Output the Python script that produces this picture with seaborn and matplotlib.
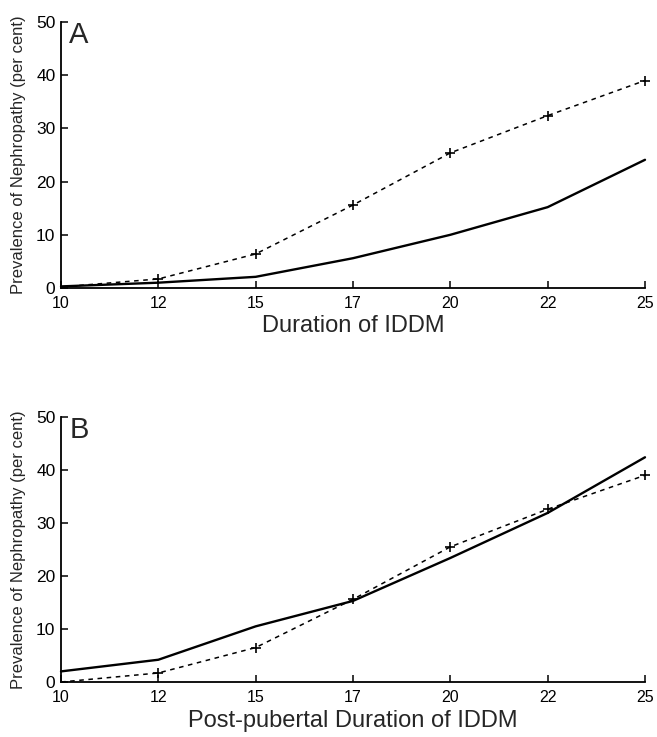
import numpy as np
import pandas as pd
import matplotlib
matplotlib.use("Agg")
import matplotlib.pyplot as plt
import seaborn as sns

# duration categories (evenly spaced on the axis)
durations = ["10", "12", "15", "17", "20", "22", "25"]

# dashed series with "+" markers
dashed_a = [0.2, 1.7, 6.4, 15.6, 25.4, 32.4, 39.0]
dashed_b = [0.0, 1.7, 6.5, 15.6, 25.5, 32.6, 39.0]

# solid series
solid_a = [0.3, 1.0, 2.1, 5.6, 10.0, 15.2, 24.1]
solid_b = [2.0, 4.2, 10.5, 15.3, 23.4, 31.9, 42.4]

y_ticks = [0, 10, 20, 30, 40, 50]

sns.set_theme(style="ticks")
plt.rcParams["font.family"] = ["Liberation Sans", "DejaVu Sans"]

fig = plt.figure(figsize=(6.57, 7.37), dpi=100)
W, H = 657, 737
ax_a = fig.add_axes([61 / W, 1 - 288 / H, (645 - 61) / W, (288 - 22) / H])
ax_b = fig.add_axes([61 / W, 1 - 682 / H, (645 - 61) / W, (682 - 417) / H])


def draw_panel(ax, solid, dashed, letter, xlabel):
    pos = np.arange(len(durations))
    df = pd.DataFrame({"x": pos, "solid": solid, "dashed": dashed})
    sns.lineplot(data=df, x="x", y="solid", ax=ax, color="black", lw=1.7)
    sns.lineplot(data=df, x="x", y="dashed", ax=ax, color="black", lw=1.1,
                 linestyle=(0, (3, 3)), marker="+", markersize=6.5,
                 markeredgewidth=1.2, markeredgecolor="black",
                 markevery=list(range(1, len(pos))))
    for ln in ax.lines:
        ln.set_clip_on(False)
    ax.set_xlim(0, len(pos) - 1)
    ax.set_ylim(0, 50)
    ax.set_xticks(pos)
    ax.set_xticklabels(durations)
    ax.set_yticks(y_ticks)
    ax.tick_params(direction="in", length=5, width=1.1, colors="black")
    ax.tick_params(axis="x", labelsize=11.5, pad=6)
    ax.tick_params(axis="y", labelsize=12.5, pad=4)
    for s in ["top", "right"]:
        ax.spines[s].set_visible(False)
    for s in ["left", "bottom"]:
        ax.spines[s].set_linewidth(1.3)
        ax.spines[s].set_color("black")
    ax.set_xlabel(xlabel, fontsize=17, labelpad=3)
    ax.set_ylabel("Prevalence of Nephropathy (per cent)", fontsize=12, labelpad=7)
    ax.text(0.014, 1.005, letter, transform=ax.transAxes, fontsize=21,
            ha="left", va="top")
    ax.set_facecolor("white")


draw_panel(ax_a, solid_a, dashed_a, "A", "Duration of IDDM")
draw_panel(ax_b, solid_b, dashed_b, "B", "Post-pubertal Duration of IDDM")

fig.savefig("out.png", dpi=100, facecolor="white")
